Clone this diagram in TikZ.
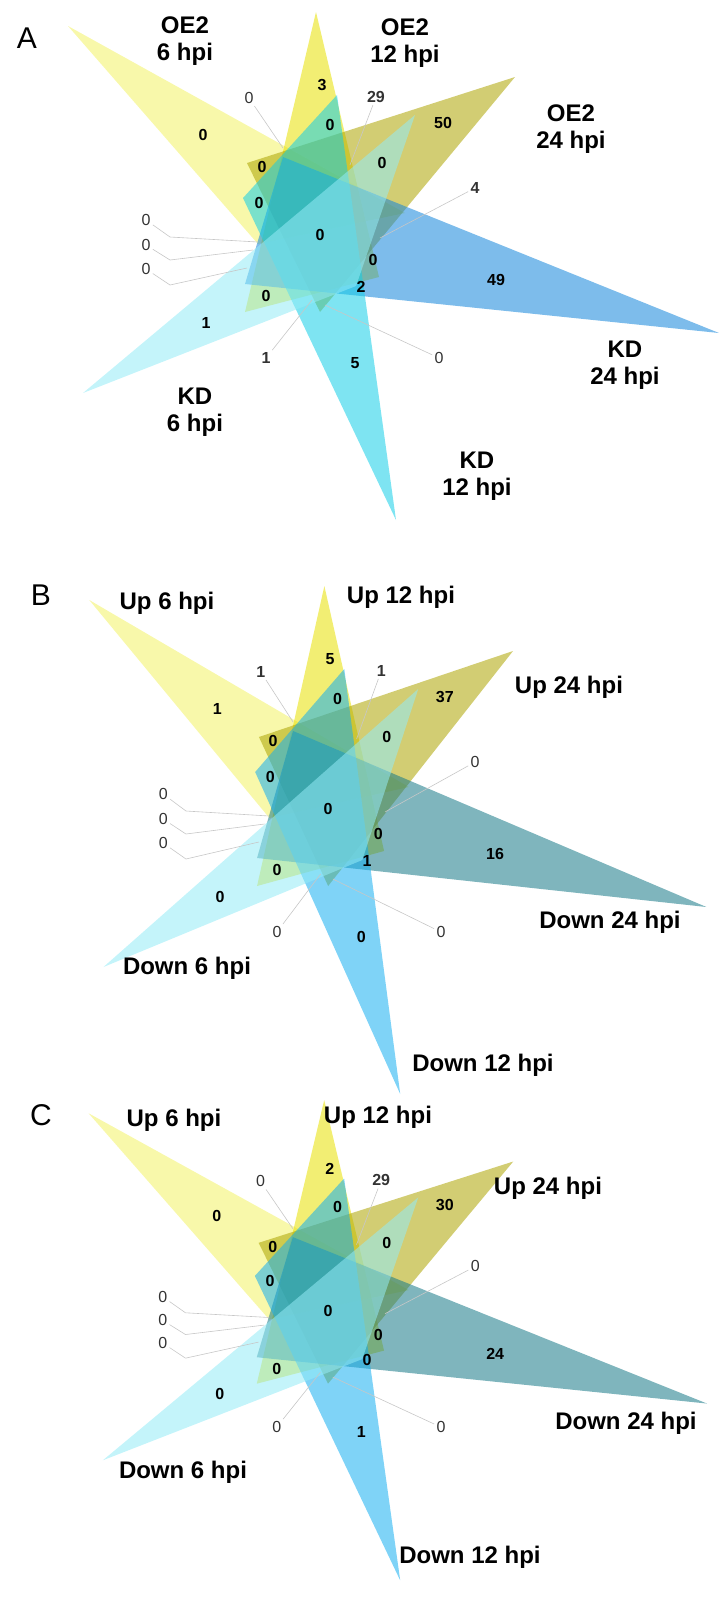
\documentclass[tikz,border=0pt]{standalone}
\usepackage{fontspec}
\setmainfont{Liberation Sans}
\usetikzlibrary{positioning}

\definecolor{oesix}{RGB}{242,242,100}
\definecolor{oetwelve}{RGB}{231,224,0}
\definecolor{oetwentyfour}{RGB}{173,164,0}
\definecolor{kdsix}{RGB}{148,235,246}
\definecolor{kdtwelve}{RGB}{20,206,231}
\definecolor{kdtwentyfour}{RGB}{18,133,218}
\definecolor{dntwelve}{RGB}{22,175,240}
\definecolor{dntwentyfour}{RGB}{22,121,135}

% six triangles, in the coordinates of panel A
\newcommand{\vennsix}[2]{%
  \fill[tri, fill=oesix] (68,26) -- (258,244) -- (405,213) -- cycle;
  \fill[tri, fill=oetwelve] (316,12) -- (245,312) -- (379,277) -- cycle;
  \fill[tri, fill=oetwentyfour] (515,77) -- (247,163) -- (320,312) -- cycle;
  \fill[tri, fill=#1] (719,333) -- (283,157) -- (245,284) -- cycle;
  \fill[tri, fill=#2] (396,520) -- (337,95) -- (243,198) -- cycle;
  \fill[tri, fill=kdsix] (83,393) -- (415,115) -- (356,286) -- cycle;
}
\newcommand{\leadtext}[1]{\ifnum#1=0 #1\else\textbf{#1}\fi}
% counts with leader lines
\newcommand{\vennleaders}[6]{%
  \foreach \x/\y/\ex/\ey/\t [count=\i] in
      {249/98/283/148/#2, 376/97/350/165/#3, 475/188/380/238/#4,
       266/358/312/300/#5, 439/358/325/305/#6}{
    \node[lead] (#1l\i) at (\x,\y) {\leadtext{\t}};
    \coordinate (#1e\i) at (\ex,\ey);
    \draw[leader] (#1l\i) -- (#1e\i);
  }
  \foreach \y/\ky/\ex/\ey [count=\i] in
      {220/237/258/242, 245/260/253/250, 269/285/247/268}{
    \node[lead] (#1k\i) at (146,\y) {0};
    \coordinate (#1kb\i) at (170,\ky);
    \coordinate (#1ke\i) at (\ex,\ey);
    \draw[leader] (#1k\i) -- (#1kb\i) -- (#1ke\i);
  }
}

\begin{document}
\begin{tikzpicture}[
    x=0.5pt, y=-0.5pt,
    tri/.style={fill opacity=0.55, draw=none},
    num/.style={font=\bfseries\fontsize{8}{9}\selectfont, inner sep=0.5pt},
    lead/.style={font=\fontsize{8}{9}\selectfont, text=black!80, inner sep=1pt},
    leader/.style={draw=black!22, line width=0.3pt},
    setlabel/.style={font=\bfseries\fontsize{12}{13.5}\selectfont, align=center, inner sep=0pt},
    panel/.style={font=\fontsize{15}{17}\selectfont, inner sep=0pt}
]
    \useasboundingbox (0,0) rectangle (719,1608);

    % Panel A
    \begin{scope}
        \vennsix{kdtwentyfour}{kdtwelve}
        \foreach \x/\y/\t [count=\i] in {203/135/0, 322/85/3, 330/125/0, 443/123/50,
            262/167/0, 382/163/0, 259/203/0, 320/235/0, 373/260/0, 496/280/49,
            361/287/2, 266/296/0, 206/323/1, 355/363/5}
            \node[num] (an\i) at (\x,\y) {\t};
        \vennleaders{a}{0}{29}{4}{1}{0}
    \end{scope}
    \node[panel] (pa) at (27,38) {A};
    \node[setlabel] (a6) at (185,41) {OE2\\6 hpi};
    \node[setlabel] (a12) at (405,43) {OE2\\12 hpi};
    \node[setlabel] (a24) at (571,129) {OE2\\24 hpi};
    \node[setlabel] (k24) at (625,365) {KD\\24 hpi};
    \node[setlabel] (k12) at (477,476) {KD\\12 hpi};
    \node[setlabel] (k6) at (195,412) {KD\\6 hpi};

    % Panel B
    \begin{scope}[shift={(24.8,574)}, xscale=0.948]
        \vennsix{dntwentyfour}{dntwelve}
        \foreach \x/\y/\t [count=\i] in {203/135/1, 322/85/5, 330/125/0, 443/123/37,
            262/167/0, 382/163/0, 259/203/0, 320/235/0, 373/260/0, 496/280/16,
            361/287/1, 266/296/0, 206/323/0, 355/363/0}
            \node[num] (bn\i) at (\x,\y) {\t};
        \vennleaders{b}{1}{1}{0}{0}{0}
    \end{scope}
    \node[panel] (pb) at (41,595) {B};
    \node[setlabel] (bu6) at (167,603) {Up 6 hpi};
    \node[setlabel] (bu12) at (401,597) {Up 12 hpi};
    \node[setlabel] (bu24) at (569,687) {Up 24 hpi};
    \node[setlabel] (bd24) at (610,922) {Down 24 hpi};
    \node[setlabel] (bd6) at (187,968) {Down 6 hpi};
    \node[setlabel] (bd12) at (483,1065) {Down 12 hpi};

    % Panel C
    \begin{scope}[shift={(24,1088.7)}, xscale=0.95, yscale=0.9455]
        \vennsix{dntwentyfour}{dntwelve}
        \foreach \x/\y/\t [count=\i] in {203/135/0, 322/85/2, 330/125/0, 443/123/30,
            262/167/0, 382/163/0, 259/203/0, 320/235/0, 373/260/0, 496/280/24,
            361/287/0, 266/296/0, 206/323/0, 355/363/1}
            \node[num] (cn\i) at (\x,\y) {\t};
        \vennleaders{c}{0}{29}{0}{0}{0}
    \end{scope}
    \node[panel] (pc) at (41,1115) {C};
    \node[setlabel] (cu6) at (174,1120) {Up 6 hpi};
    \node[setlabel] (cu12) at (378,1117) {Up 12 hpi};
    \node[setlabel] (cu24) at (548,1188) {Up 24 hpi};
    \node[setlabel] (cd24) at (626,1423) {Down 24 hpi};
    \node[setlabel] (cd6) at (183,1472) {Down 6 hpi};
    \node[setlabel] (cd12) at (470,1557) {Down 12 hpi};
\end{tikzpicture}
\end{document}
